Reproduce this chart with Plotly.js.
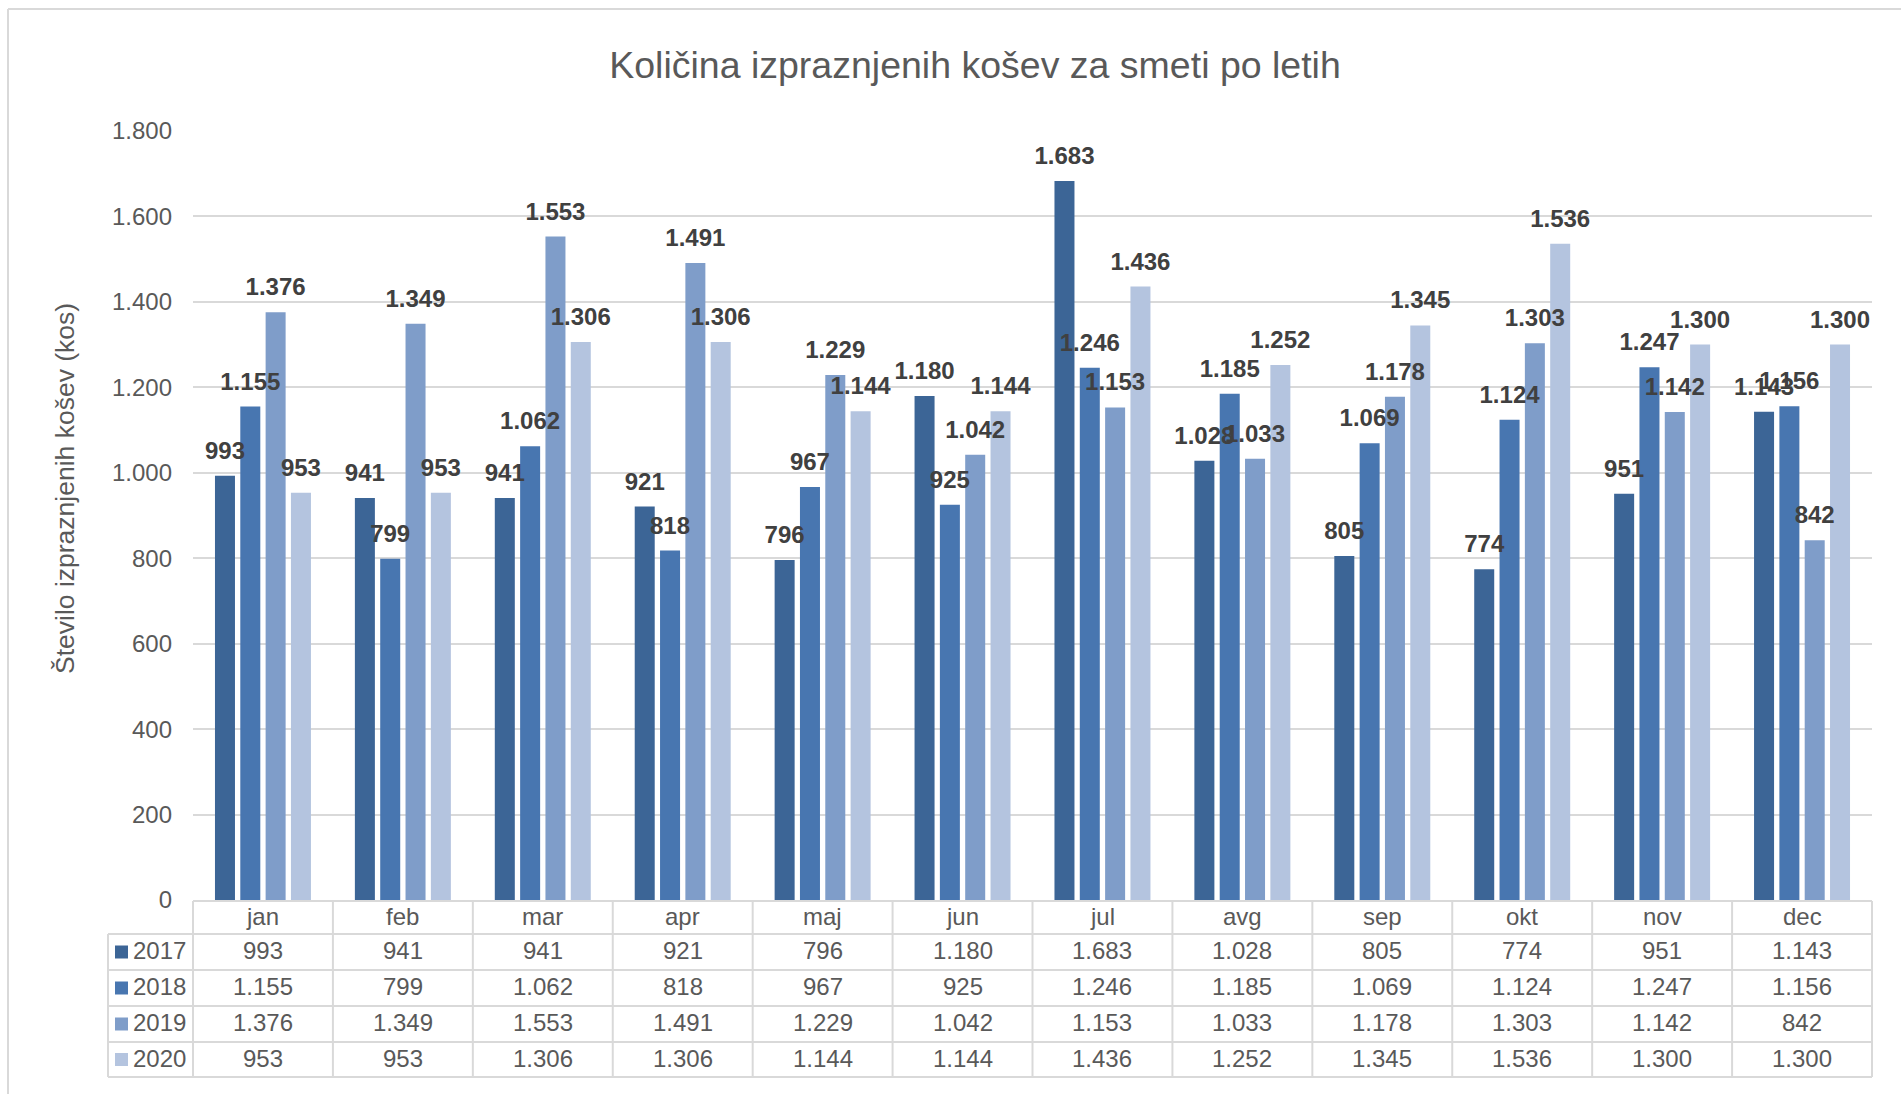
<!DOCTYPE html>
<html>
<head>
<meta charset="utf-8">
<script src="https://cdn.plot.ly/plotly-3.0.1.min.js"></script>
<style>
html,body{margin:0;padding:0;background:#fff;}
#chart{width:1901px;height:1094px;}
</style>
</head>
<body>
<div id="chart"></div>
<script>
// ---------- data ----------
const months = ['jan','feb','mar','apr','maj','jun','jul','avg','sep','okt','nov','dec'];
const years = ['2017','2018','2019','2020'];
const v2017 = [993, 941, 941, 921, 796, 1180, 1683, 1028, 805, 774, 951, 1143];
const v2018 = [1155, 799, 1062, 818, 967, 925, 1246, 1185, 1069, 1124, 1247, 1156];
const v2019 = [1376, 1349, 1553, 1491, 1229, 1042, 1153, 1033, 1178, 1303, 1142, 842];
const v2020 = [953, 953, 1306, 1306, 1144, 1144, 1436, 1252, 1345, 1536, 1300, 1300];
const yTicks = [0, 200, 400, 600, 800, 1000, 1200, 1400, 1600, 1800];
const chartTitle = 'Količina izpraznjenih košev za smeti po letih';
const yTitle = 'Število izpraznjenih košev (kos)';

// ---------- styles ----------
const series = [v2017, v2018, v2019, v2020];
const colors = ['#3C6596', '#4876B0', '#7F9DC9', '#B4C4DF'];
const FONT = '"Liberation Sans", Arial, sans-serif';
const GREY = '#595959';
const LINE = '#D9D9D9';

const W = 1901, H = 1094;
const plotL = 193, plotR = 1872, plotT = 131, plotB = 900;
const pw = plotR - plotL, ph = plotB - plotT;
const px = x => (x - plotL) / pw;
const py = y => (plotB - y) / ph;

// table geometry (px)
const legendLeft = 108;
const rowLines = [901, 934, 970, 1006, 1042, 1077];
const textLift = 1.5;

function fmt(v) { return String(v).replace(/\B(?=(\d{3})+(?!\d))/g, '.'); }

const traces = [];
series.forEach((vals, i) => {
  traces.push({
    type: 'bar', x: months, y: vals, name: years[i],
    marker: {color: colors[i], line: {width: 0}},
    hoverinfo: 'skip', showlegend: false
  });
});
series.forEach((vals, i) => {
  traces.push({
    type: 'scatter', mode: 'markers+text', x: months, y: vals,
    text: vals.map(fmt), textposition: 'top center',
    textfont: {family: FONT, size: 24, color: '#404040', weight: 'bold'},
    marker: {size: 16, opacity: 0, color: colors[i]},
    orientation: 'v', offsetgroup: 'g' + i, alignmentgroup: 'a',
    cliponaxis: false, hoverinfo: 'skip', showlegend: false
  });
});

const shapes = [];
const annotations = [];
const n = months.length;
const colW = 1 / n;

// frame
shapes.push({type: 'line', xref: 'paper', yref: 'paper', x0: px(8), x1: px(W + 5), y0: py(9), y1: py(9), line: {color: LINE, width: 2}});
shapes.push({type: 'line', xref: 'paper', yref: 'paper', x0: px(8), x1: px(8), y0: py(9), y1: py(H + 5), line: {color: LINE, width: 2}});

// table horizontal lines
shapes.push({type: 'line', xref: 'paper', yref: 'paper', x0: 0, x1: 1, y0: py(rowLines[0]), y1: py(rowLines[0]), line: {color: LINE, width: 2}});
for (let r = 1; r < rowLines.length; r++) {
  shapes.push({type: 'line', xref: 'paper', yref: 'paper', x0: px(legendLeft), x1: 1, y0: py(rowLines[r]), y1: py(rowLines[r]), line: {color: LINE, width: 2}});
}
// table vertical lines
for (let c = 0; c <= n; c++) {
  shapes.push({type: 'line', xref: 'paper', yref: 'paper', x0: c * colW, x1: c * colW, y0: py(rowLines[0]), y1: py(rowLines[rowLines.length - 1]), line: {color: LINE, width: 2}});
}
shapes.push({type: 'line', xref: 'paper', yref: 'paper', x0: px(legendLeft), x1: px(legendLeft), y0: py(rowLines[1]), y1: py(rowLines[rowLines.length - 1]), line: {color: LINE, width: 2}});

// month header
months.forEach((m, c) => {
  annotations.push({xref: 'paper', yref: 'paper', x: (c + 0.5) * colW, y: py((rowLines[0] + rowLines[1]) / 2 - textLift),
    text: m, showarrow: false, xanchor: 'center', yanchor: 'middle',
    font: {family: FONT, size: 24, color: GREY}});
});
// data rows
series.forEach((vals, r) => {
  const mid = (rowLines[r + 1] + rowLines[r + 2]) / 2;
  const yc = py(mid - textLift);
  // legend key
  shapes.push({type: 'rect', xref: 'paper', yref: 'paper', x0: px(115), x1: px(128),
    y0: py(mid + 6.5), y1: py(mid - 6.5), fillcolor: colors[r], line: {width: 0}});
  annotations.push({xref: 'paper', yref: 'paper', x: px(131), y: yc, text: years[r], showarrow: false,
    xanchor: 'left', yanchor: 'middle', font: {family: FONT, size: 24, color: GREY}});
  vals.forEach((v, c) => {
    annotations.push({xref: 'paper', yref: 'paper', x: (c + 0.5) * colW, y: yc, text: fmt(v), showarrow: false,
      xanchor: 'center', yanchor: 'middle', font: {family: FONT, size: 24, color: GREY}});
  });
});

// y axis title
annotations.push({xref: 'paper', yref: 'paper', x: px(65), y: py(489), text: yTitle, textangle: -90,
  showarrow: false, xanchor: 'center', yanchor: 'middle', font: {family: FONT, size: 26.5, color: GREY}});

const layout = {
  width: W, height: H,
  margin: {l: plotL, r: W - plotR, t: plotT, b: H - plotB, pad: 0},
  paper_bgcolor: '#fff', plot_bgcolor: '#fff',
  font: {family: FONT, color: GREY},
  title: {text: chartTitle, font: {family: FONT, size: 37.5, color: GREY},
    x: 975 / W, xanchor: 'center', xref: 'container', y: 1 - 65 / H, yanchor: 'middle', yref: 'container'},
  barmode: 'group', bargap: 0.276, bargroupgap: 0.21,
  scattermode: 'group', scattergap: 0.276,
  showlegend: false,
  xaxis: {type: 'category', categoryarray: months, range: [-0.5, n - 0.5], showticklabels: false,
    showgrid: false, zeroline: false, showline: false, ticks: '', fixedrange: true},
  yaxis: {range: [0, 1800], tickvals: yTicks, ticktext: yTicks.map(fmt), showgrid: true,
    gridcolor: LINE, gridwidth: 2, zeroline: false, showline: false, ticks: '',
    ticklabelstandoff: 20, tickfont: {family: FONT, size: 24, color: GREY}, fixedrange: true},
  shapes: shapes, annotations: annotations
};

Plotly.newPlot('chart', traces, layout, {displayModeBar: false, staticPlot: true});
</script>
</body>
</html>
